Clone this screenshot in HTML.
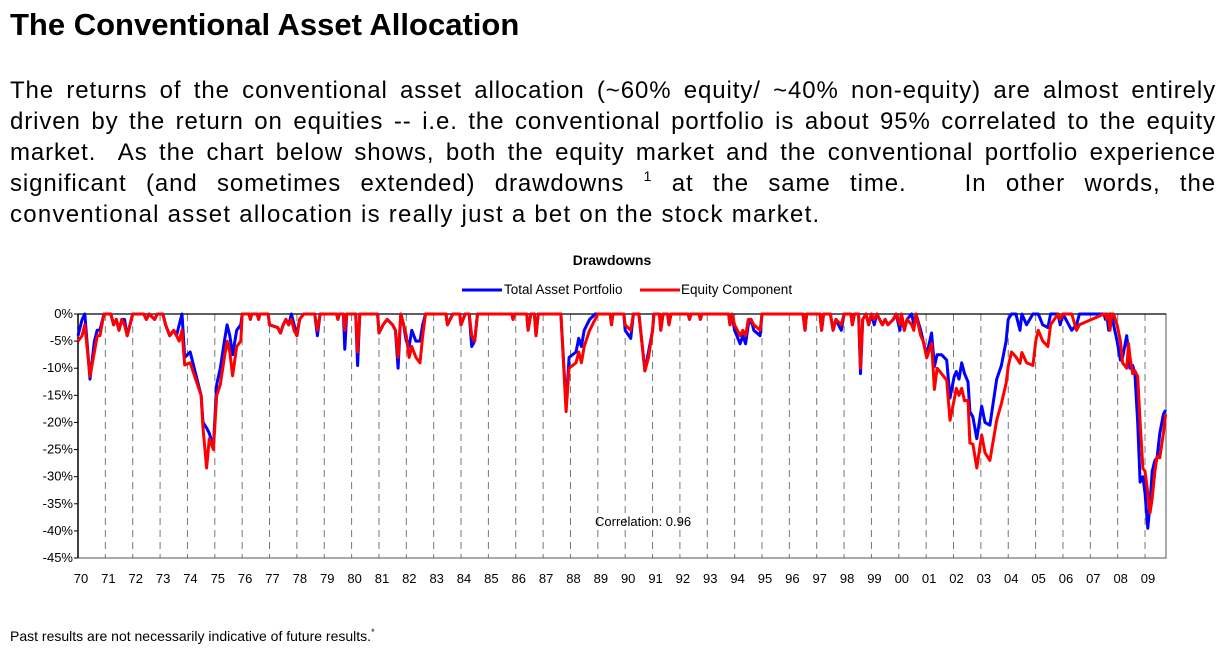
<!DOCTYPE html>
<html><head><meta charset="utf-8">
<style>
body{margin:0;width:1222px;height:650px;background:#fff;font-family:"Liberation Sans",Arial,sans-serif;color:#000;position:relative;overflow:hidden}
#title{position:absolute;left:10px;top:5px;font-size:31px;font-weight:bold;margin:0;line-height:40px}
#para{position:absolute;left:10px;top:75px;width:1206px;font-size:24px;line-height:31px;letter-spacing:0.9px}
#para div{text-align:justify;text-align-last:justify;white-space:nowrap;overflow:visible}
#para div.last{text-align-last:left;letter-spacing:1.25px}
#foot{position:absolute;left:10px;top:628px;font-size:14px}
sup{font-size:14px;vertical-align:10px;line-height:0}
svg{position:absolute;left:0;top:0}
</style></head><body>
<h1 id="title">The Conventional Asset Allocation</h1>
<div id="para">
<div>The returns of the conventional asset allocation (~60% equity/ ~40% non-equity) are almost entirely</div>
<div>driven by the return on equities -- i.e. the conventional portfolio is about 95% correlated to the equity</div>
<div>market.&nbsp; As the chart below shows, both the equity market and the conventional portfolio experience</div>
<div>significant (and sometimes extended) drawdowns <sup>1</sup> at the same time.&nbsp;&nbsp; In other words, the</div>
<div class="last">conventional asset allocation is really just a bet on the stock market.</div>
</div>
<svg id="chart" width="1222" height="650"></svg>
<div id="foot">Past results are not necessarily indicative of future results.<sup style="font-size:9px;vertical-align:6px">*</sup></div>
<script>
const dates=[1970.0,1970.15,1970.25,1970.44,1970.6,1970.7,1970.8,1970.95,1971.2,1971.3,1971.4,1971.5,1971.6,1971.7,1971.8,1971.9,1972.0,1972.4,1972.5,1972.6,1972.8,1972.9,1973.1,1973.2,1973.35,1973.5,1973.6,1973.7,1973.8,1973.9,1974.1,1974.3,1974.5,1974.57,1974.7,1974.8,1974.95,1975.07,1975.2,1975.35,1975.45,1975.55,1975.65,1975.8,1975.95,1976.0,1976.25,1976.3,1976.35,1976.55,1976.6,1976.65,1976.95,1977.0,1977.3,1977.4,1977.5,1977.6,1977.7,1977.8,1977.9,1978.0,1978.1,1978.25,1978.65,1978.75,1978.85,1979.45,1979.5,1979.55,1979.7,1979.75,1979.82,1980.15,1980.22,1980.3,1980.95,1981.0,1981.15,1981.3,1981.5,1981.6,1981.7,1981.8,1981.9,1982.0,1982.1,1982.2,1982.35,1982.5,1982.6,1982.7,1983.45,1983.5,1983.6,1983.7,1983.95,1984.0,1984.15,1984.3,1984.39,1984.5,1984.6,1985.85,1985.9,1985.95,1986.4,1986.45,1986.55,1986.68,1986.74,1986.82,1987.65,1987.84,1987.95,1988.2,1988.3,1988.4,1988.5,1988.7,1988.9,1989.0,1989.45,1989.5,1989.55,1989.95,1990.0,1990.2,1990.3,1990.5,1990.72,1990.85,1991.0,1991.05,1991.25,1991.3,1991.38,1991.55,1991.6,1991.67,1992.3,1992.35,1992.4,1992.7,1992.75,1992.8,1993.78,1993.83,1993.9,1994.0,1994.2,1994.3,1994.4,1994.5,1994.6,1994.7,1994.93,1995.0,1996.5,1996.57,1996.63,1997.12,1997.18,1997.25,1997.5,1997.6,1997.7,1997.9,1998.0,1998.25,1998.3,1998.38,1998.53,1998.6,1998.68,1998.8,1998.9,1999.0,1999.1,1999.2,1999.3,1999.4,1999.5,1999.6,1999.8,1999.9,2000.04,2000.1,2000.2,2000.3,2000.47,2000.55,2000.63,2000.8,2000.89,2001.02,2001.2,2001.3,2001.4,2001.56,2001.75,2001.87,2002.02,2002.1,2002.2,2002.3,2002.4,2002.53,2002.6,2002.71,2002.85,2003.03,2003.15,2003.33,2003.58,2003.75,2003.92,2004.0,2004.12,2004.28,2004.43,2004.5,2004.67,2004.9,2005.01,2005.1,2005.26,2005.45,2005.55,2005.82,2005.9,2006.0,2006.32,2006.5,2006.6,2007.5,2007.55,2007.6,2007.67,2007.72,2007.78,2007.85,2007.98,2008.1,2008.18,2008.33,2008.4,2008.45,2008.55,2008.63,2008.73,2008.82,2008.92,2009.0,2009.1,2009.18,2009.26,2009.36,2009.44,2009.54,2009.67,2009.75];
const totalAsset=[-4,-1,0,-12,-5,-3,-3,0,0,-2,-1,-3,-1,-1,-4,-2,0,0,-1,0,-1,0,0,-2,-4,-3,-4,-2,0,-8,-7,-11,-15,-20,-21,-22,-24.5,-13,-10,-5,-2,-4,-7.5,-3,-2,0,0,-1,0,0,-1,0,0,-2,-2.5,-3.5,-2,-1,-2,0,-2,-4,-1,0,0,-4,0,0,-1,0,0,-6.5,0,0,-9.5,0,0,-3.5,-2,-1,-2,-3,-10,0,-2,-5,-6,-3,-5,-5,-2,0,0,-2,-1,0,0,-2,0,0,-6,-5,0,0,-1,0,0,-3,0,0,-4,0,0,-17,-8,-7,-4.5,-6,-3,-1,0,0,0,-2,0,0,-3,-4.5,0,0,-10.5,-7,-3,0,0,-3,0,0,-2,0,0,-1,0,0,-1,0,0,-2,0,-3,-5.5,-4,-5.5,-2,-1,-3,-4,0,0,-3,0,0,-3,0,0,-3,-1,-3,0,0,-2,0,0,-11,-1,0,-2,0,-2,0,-1,-2,-1,-2,-1,0,-3,0,-3,-1,0,-2,0,-3,-5,-7.5,-3.5,-9.7,-7.5,-7.5,-8.5,-15.5,-11.6,-10.6,-12,-9,-11,-12.5,-18,-19,-23,-17,-20,-20.5,-12,-9.5,-5,-1,0,0,-3,0,-2,0,0,0,-2,-2.5,0,0,-2,0,-3,-2,0,0,-1,0,-3,0,0,-2,-5,-8.5,-8,-4,-7,-10,-9.5,-11,-20,-31,-30,-33,-39.5,-35,-29,-27,-26.5,-22,-18.5,-17.7];
const equity=[-5,-4,-2,-11.5,-7,-4,-4,0,0,-2,-1,-3,-1,-2,-4,-2,0,0,-1,0,-1,0,0,-2,-4,-3,-4,-5,-3,-9.4,-9,-12,-15,-21,-28.4,-23,-25,-15,-13,-8,-5,-7,-11.4,-6,-5,0,0,-1,0,0,-1,0,0,-2,-2.5,-3.5,-2,-1,-2,-1,-3,-4,-1,0,0,-3,0,0,-1,0,0,-3,0,0,-7,0,0,-3.5,-2,-1,-2,-3,-8,0,-2,-4,-8,-6,-8,-9,-4,0,0,-2,-1,0,0,-2,0,0,-4,-5,0,0,-1,0,0,-3,0,0,-4,0,0,-18,-10,-9,-7,-9,-6,-3,-1,0,0,-2,0,0,-2,-3,0,0,-10.5,-8,-3,0,0,-3,0,0,-2,0,0,-1,0,0,-1,0,0,-2,0,-2,-4,-3,-4,-1,-1,-2,-3,0,0,-3,0,0,-3,0,0,-3,-1,-2,0,0,-2,0,0,-10,-1,0,-2,0,-1,0,-1,-2,-1,-2,-1,0,-2,0,-3,-1,-2,-3,0,-4,-5,-8.1,-5.4,-13.9,-10,-11,-12.2,-19.6,-15.9,-13.7,-15,-13.7,-16,-15.9,-23.8,-24,-28.4,-22.3,-25.6,-27,-19.6,-16.5,-12.8,-9.7,-7,-7.9,-9.1,-7.1,-9,-9.5,-4.8,-3,-5,-6,-2,0,-1,0,0,-3,-2,0,0,-1,0,-3,0,0,-2,-5,-9,-10,-5.5,-8,-11,-10.5,-11.5,-20,-28.5,-29,-33,-36.7,-34,-29,-26.3,-26.5,-22,-18.5,-17.7];
const yTicks=[0,-5,-10,-15,-20,-25,-30,-35,-40,-45];
const yearLabels=["70","71","72","73","74","75","76","77","78","79","80","81","82","83","84","85","86","87","88","89","90","91","92","93","94","95","96","97","98","99","00","01","02","03","04","05","06","07","08","09"];

const NS="http://www.w3.org/2000/svg";
const svg=document.getElementById('chart');
const L=78,R=1166,T=314,B=558;
const xs=d=>L+(d-1970)*27.36;
const ys=v=>T+(0-v)/45*(B-T);
function mk(tag,attrs,parent){const e=document.createElementNS(NS,tag);for(const k in attrs)e.setAttribute(k,attrs[k]);(parent||svg).appendChild(e);return e;}

let t=mk('text',{x:612,y:265,'text-anchor':'middle','font-size':14,'font-weight':'bold','font-family':'Liberation Sans, sans-serif'});
t.textContent='Drawdowns';



let lg=mk('g',{});


let l1=mk('line',{x1:462,y1:290,x2:502,y2:290,stroke:'#0000ff','stroke-width':3},lg);


let lt1=mk('text',{x:504,y:294,'font-size':13.5,'font-family':'Liberation Sans, sans-serif'},lg);lt1.textContent='Total Asset Portfolio';


let l2=mk('line',{x1:640,y1:290,x2:680,y2:290,stroke:'#ff0000','stroke-width':3},lg);


let lt2=mk('text',{x:681,y:294,'font-size':13.5,'font-family':'Liberation Sans, sans-serif'},lg);lt2.textContent='Equity Component';



yearLabels.forEach((lab,i)=>{
  if(i>0){
    let g=mk('line',{x1:xs(1970+i),x2:xs(1970+i),y1:T,y2:B,stroke:'#777','stroke-width':1,'stroke-dasharray':'7,5'});
    
    
  }
  let tx=mk('text',{x:xs(1970+i)+3,y:583,'text-anchor':'middle','font-size':13,'font-family':'Liberation Sans, sans-serif'});
  tx.textContent=lab;
  
  
});
yTicks.forEach(v=>{
  let tk=mk('line',{x1:L-4,x2:L,y1:ys(v),y2:ys(v),stroke:'#000'});
  
  
  let tx=mk('text',{x:L-5,y:ys(v)+4,'text-anchor':'end','font-size':13,'font-family':'Liberation Sans, sans-serif'});
  tx.textContent=v+'%';
  
  
});
let fr=mk('rect',{x:L,y:T,width:R-L,height:B-T,fill:'none',stroke:'#555','stroke-width':1});


let ax=mk('line',{x1:L,x2:L,y1:T,y2:B,stroke:'#000','stroke-width':1.5});


let tl=mk('line',{x1:L,x2:R,y1:T,y2:T,stroke:'#000','stroke-width':1.2});



function series(vals,color,name){
  const d=dates.map((x,i)=>(i?'L':'M')+xs(x).toFixed(1)+','+ys(vals[i]).toFixed(1)).join(' ');
  let p=mk('path',{d:d,fill:'none',stroke:color,'stroke-width':3,'stroke-linejoin':'round'});
  
  
}
series(totalAsset,'#0000ff','total-asset-line');
series(equity,'#ff0000','equity-line');

let c=mk('text',{x:595,y:526,'font-size':13,'font-family':'Liberation Sans, sans-serif'});
c.textContent='Correlation: 0.96';


</script>
</body></html>
